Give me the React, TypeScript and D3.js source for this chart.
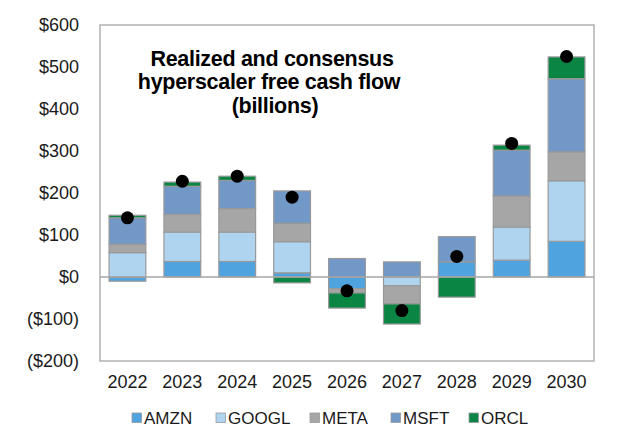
import * as d3 from "d3";

const years = ["2022", "2023", "2024", "2025", "2026", "2027", "2028", "2029", "2030"];
const companies = ["AMZN", "GOOGL", "META", "MSFT", "ORCL"];

// billions
const amzn = [-10, 37, 37, 10, -28, 0, 36, 40, 85];
const googl = [58, 70, 70, 74, 0, -21, 0, 79, 144];
const meta = [20, 42, 56, 44, -10, -43, 0, 74, 69];
const msft = [63, 67, 67, 77, 44, 36, 60, 109, 174];
const orcl = [6, 10, 10, -14, -36, -48, -48, 12, 52];
const totals = [141, 228, 240, 190, -33, -80, 49, 318, 525];

const yTicks = [600, 500, 400, 300, 200, 100, 0, -100, -200];

const colors: Record<string, string> = {
  AMZN: "#4FA4E0",
  GOOGL: "#AFD4F0",
  META: "#A6A6A6",
  MSFT: "#7298C8",
  ORCL: "#0B8543",
};

const W = 627;
const H = 442;
const plot = { left: 100, right: 594, top: 25, bottom: 361 };
const font = "'Liberation Sans', Arial, sans-serif";

export default function App() {
  const rows = years.map((year, i) => ({
    year,
    AMZN: amzn[i],
    GOOGL: googl[i],
    META: meta[i],
    MSFT: msft[i],
    ORCL: orcl[i],
  }));

  const x = d3.scaleBand().domain(years).range([plot.left, plot.right]).paddingInner(0.33).paddingOuter(0.165);
  const y = d3.scaleLinear().domain([-200, 600]).range([plot.bottom, plot.top]);

  const stacked = d3
    .stack<any>()
    .keys(companies)
    .offset(d3.stackOffsetDiverging)(rows);

  const fmt = (v: number) => (v < 0 ? `($${Math.abs(v)})` : `$${v}`);

  const legendX = [132, 216, 310, 391, 469];

  return (
    <svg width={W} height={H} style={{ position: "absolute", left: 0, top: 0, background: "#fff" }} fontFamily={font}>
      <rect x={plot.left} y={plot.top} width={plot.right - plot.left} height={plot.bottom - plot.top} fill="none" stroke="#A6A6A6" strokeWidth={1.3} />

      {yTicks.map((t) => (
        <text key={t} x={79} y={y(t)} dy="0.35em" textAnchor="end" fontSize={18} fill="#1a1a1a">
          {fmt(t)}
        </text>
      ))}

      {stacked.map((s) => (
        <g key={s.key} fill={colors[s.key]} stroke="#999" strokeWidth={1.2}>
          {s.map((d, i) =>
            d[1] - d[0] === 0 ? null : (
              <rect
                key={i}
                x={x(years[i])}
                width={x.bandwidth()}
                y={y(Math.max(d[0], d[1]))}
                height={Math.abs(y(d[0]) - y(d[1]))}
              />
            )
          )}
        </g>
      ))}

      <line x1={plot.left} x2={plot.right} y1={y(0)} y2={y(0)} stroke="#A6A6A6" strokeWidth={1.3} />

      {totals.map((t, i) => (
        <circle key={i} cx={x(years[i])! + x.bandwidth() / 2} cy={y(t)} r={6.5} fill="#000" />
      ))}

      {years.map((yr) => (
        <text key={yr} x={x(yr)! + x.bandwidth() / 2} y={382} dy="0.35em" textAnchor="middle" fontSize={18} fill="#1a1a1a">
          {yr}
        </text>
      ))}

      <g fontWeight="bold" fontSize={21.5} textAnchor="middle" fill="#000" letterSpacing={-0.3}>
        <text x={272} y={66}>Realized and consensus</text>
        <text x={269} y={89}>hyperscaler free cash flow</text>
        <text x={275} y={113}>(billions)</text>
      </g>

      {companies.map((c, i) => (
        <g key={c}>
          <rect x={legendX[i]} y={413} width={9.5} height={9.5} fill={colors[c]} stroke="#999" strokeWidth={0.8} />
          <text x={legendX[i] + 12} y={418} dy="0.35em" fontSize={17} fill="#1a1a1a">
            {c}
          </text>
        </g>
      ))}
    </svg>
  );
}
